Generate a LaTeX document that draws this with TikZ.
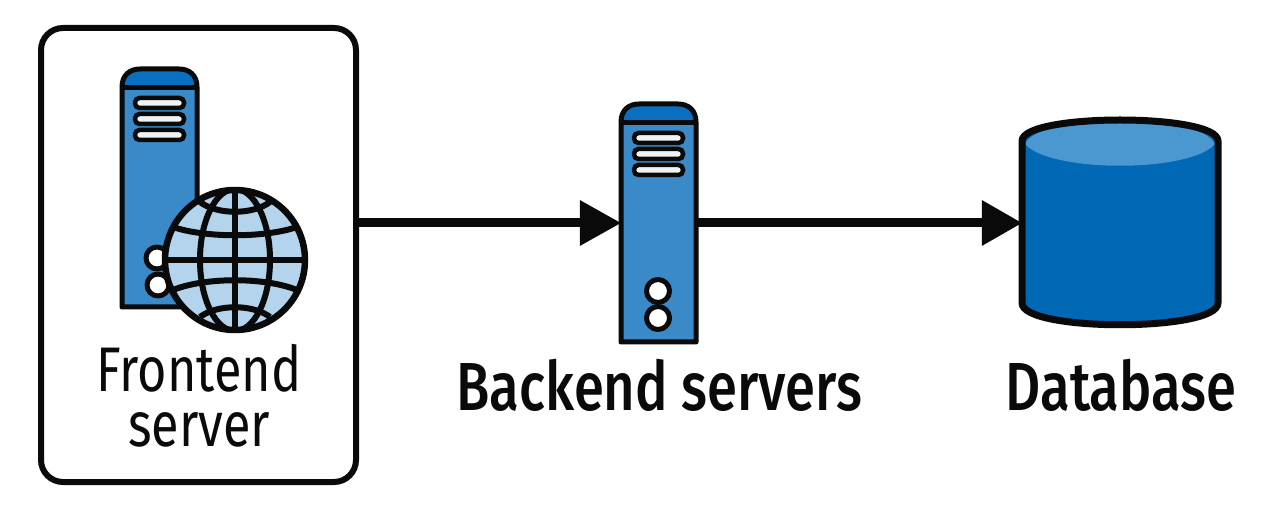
\documentclass[tikz,border=0pt]{standalone}
\usepackage{fontspec}
\setmainfont[FakeStretch=0.8]{Fira Sans}
\newfontfamily\medfont[FakeStretch=0.8]{Fira Sans Medium}
\usetikzlibrary{calc}
\definecolor{srvblue}{HTML}{3A8ACA}
\definecolor{hdblue}{HTML}{0A6FC0}
\definecolor{lidblue}{HTML}{4B98D0}
\definecolor{dbblue}{HTML}{0068B5}
\definecolor{globeblue}{HTML}{B3D4EC}
\definecolor{vent}{HTML}{F2F2F2}
\definecolor{ink}{HTML}{0A0A0A}
\tikzset{
  x=1pt,y=-1pt,
  outline/.style={draw=ink,line width=5pt,line join=round},
  framebox/.style={draw=ink,line width=6pt,rounded corners=22pt,inner sep=0pt,minimum width=315pt,minimum height=454pt},
  anchorbox/.style={inner sep=0pt,minimum width=#1,minimum height=120pt},
  flow/.style={draw=ink,line width=9pt},
  headtip/.style={fill=ink,draw=none},
  lbl/.style={inner sep=0pt,text=ink,align=center,font=\fontsize{63}{55}\selectfont},
  lblb/.style={inner sep=0pt,text=ink,anchor=base,font=\fontsize{68}{68}\selectfont\medfont},
  gridline/.style={draw=ink,line width=6pt},
}
\newcommand{\serverdraw}[2]{%
  \begin{scope}[shift={(#1,#2)}]
    \path[fill=srvblue] (0,238) -- (0,18) .. controls (0,6) and (8,0) .. (18,0) -- (57,0) .. controls (67,0) and (75,6) .. (75,18) -- (75,238) -- cycle;
    \path[fill=hdblue] (0,19) -- (0,18) .. controls (0,6) and (8,0) .. (18,0) -- (57,0) .. controls (67,0) and (75,6) .. (75,18) -- (75,19) -- cycle;
    \path[outline] (0,19) -- (75,19);
    \path[outline] (0,238) -- (0,18) .. controls (0,6) and (8,0) .. (18,0) -- (57,0) .. controls (67,0) and (75,6) .. (75,18) -- (75,238) -- cycle;
    \foreach \vy in {34,50,66}{
      \path[draw=ink,line width=4.5pt,fill=vent,rounded corners=4.5pt] (13,\vy-5) rectangle (62,\vy+5);
    }
  \end{scope}}
\begin{document}
\begin{tikzpicture}
\useasboundingbox (0,0) rectangle (1288,510);
\fill[white] (0,0) rectangle (1288,510);
% frontend frame
\node[framebox] (front) at (198.5,255) {};
% servers
\serverdraw{122}{69}
\draw[outline,fill=white] (157,258) circle (11);
\draw[outline,fill=white] (158,285) circle (11);
% globe
\begin{scope}[shift={(235,260)}]
  \fill[globeblue] (0,0) circle (70);
  \begin{scope}
    \clip (0,0) circle (70);
    \draw[gridline] (0,-71) -- (0,71);
    \draw[gridline] (-71,0) -- (71,0);
    \draw[gridline] (0,0) ellipse (35 and 71);
    \draw[gridline] (-62,-33) .. controls (-30,-22) and (30,-22) .. (62,-33);
    \draw[gridline] (-62,30) .. controls (-30,17) and (30,17) .. (62,30);
    \draw[gridline] (-35,-58) .. controls (-18,-45) and (18,-45) .. (35,-58);
    \draw[gridline] (-35,57) .. controls (-18,44) and (18,44) .. (35,57);
  \end{scope}
  \draw[ink,line width=6.5pt] (0,0) circle (70);
\end{scope}
\node[lbl] (ftext) at (199,396) {Frontend\\server};
\serverdraw{621}{104}
\draw[outline,fill=white] (658,291) circle (11.5);
\draw[outline,fill=white] (658,318) circle (11.5);
\node[anchorbox=75pt] (back) at (658.5,223) {};
\node[lblb] (btext) at (659.5,411) {Backend servers};
% database
\path[fill=dbblue] (1022,141) .. controls (1022,110) and (1218,110) .. (1218,141) -- (1218,303) .. controls (1218,334) and (1022,334) .. (1022,303) -- cycle;
\path[fill=lidblue] (1025,144) .. controls (1040,112) and (1200,112) .. (1215,144) .. controls (1190,173) and (1050,173) .. (1025,144) -- cycle;
\path[draw=ink,line width=7pt,line join=round] (1022,141) .. controls (1022,113) and (1218,113) .. (1218,141) -- (1218,303) .. controls (1218,332) and (1022,332) .. (1022,303) -- cycle;
\node[anchorbox=196pt] (db) at (1120,223) {};
\node[lblb] (dtext) at (1121,411) {Database};
% connectors
\coordinate (h1) at ($(back.west)+(-41,0)$);
\coordinate (h2) at ($(db.west)+(-40,0)$);
\draw[flow] (front.east |- back.west) -- (h1);
\fill[headtip] (back.west) -- ($(h1)+(0,-23)$) -- ($(h1)+(0,23)$) -- cycle;
\draw[flow] (back.east) -- (h2);
\fill[headtip] (db.west) -- ($(h2)+(0,-23)$) -- ($(h2)+(0,23)$) -- cycle;
\end{tikzpicture}
\end{document}
